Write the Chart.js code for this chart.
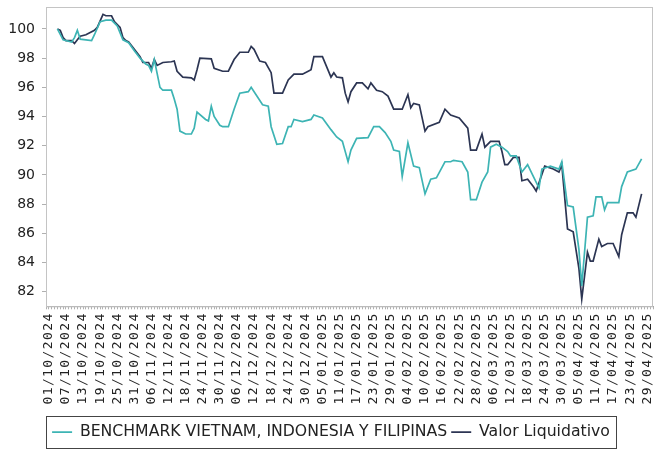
<!DOCTYPE html>
<html>
<head>
<meta charset="utf-8">
<script src="https://cdn.jsdelivr.net/npm/chart.js@4/dist/chart.umd.min.js"></script>
<style>
  html, body { margin: 0; padding: 0; background: #fff; }
  #wrap { width: 655px; height: 450px; }
</style>
</head>
<body>
<div id="wrap"><canvas id="fundChart" width="655" height="450"></canvas></div>
<script>
// ======================================================
// Datos
// ======================================================

const benchName = "BENCHMARK VIETNAM, INDONESIA Y FILIPINAS";
const navName = "Valor Liquidativo";

const benchDates = [
    "04/10/2024", "06/10/2024", "09/10/2024", "10/10/2024", "11/10/2024", "12/10/2024",
    "14/10/2024", "16/10/2024", "17/10/2024", "19/10/2024", "21/10/2024", "23/10/2024",
    "25/10/2024", "27/10/2024", "29/10/2024", "31/10/2024", "02/11/2024", "04/11/2024",
    "05/11/2024", "06/11/2024", "07/11/2024", "09/11/2024", "10/11/2024", "13/11/2024",
    "14/11/2024", "15/11/2024", "16/11/2024", "18/11/2024", "20/11/2024", "21/11/2024",
    "22/11/2024", "25/11/2024", "26/11/2024", "27/11/2024", "28/11/2024", "30/11/2024",
    "01/12/2024", "03/12/2024", "05/12/2024", "07/12/2024", "10/12/2024", "11/12/2024",
    "13/12/2024", "15/12/2024", "17/12/2024", "18/12/2024", "20/12/2024", "22/12/2024",
    "24/12/2024", "25/12/2024", "26/12/2024", "29/12/2024", "01/01/2025", "02/01/2025",
    "05/01/2025", "08/01/2025", "10/01/2025", "12/01/2025", "14/01/2025", "15/01/2025",
    "17/01/2025", "21/01/2025", "23/01/2025", "25/01/2025", "27/01/2025", "29/01/2025",
    "30/01/2025", "01/02/2025", "02/02/2025", "04/02/2025", "06/02/2025", "08/02/2025",
    "10/02/2025", "12/02/2025", "14/02/2025", "17/02/2025", "19/02/2025", "20/02/2025",
    "23/02/2025", "25/02/2025", "26/02/2025", "28/02/2025", "02/03/2025", "04/03/2025",
    "05/03/2025", "07/03/2025", "09/03/2025", "11/03/2025", "12/03/2025", "14/03/2025",
    "16/03/2025", "18/03/2025", "20/03/2025", "22/03/2025", "23/03/2025", "26/03/2025",
    "29/03/2025", "30/03/2025", "01/04/2025", "03/04/2025", "05/04/2025", "06/04/2025",
    "08/04/2025", "10/04/2025", "11/04/2025", "13/04/2025", "14/04/2025", "15/04/2025",
    "19/04/2025", "20/04/2025", "22/04/2025", "25/04/2025", "27/04/2025"
];

const benchValues = [
    100.0, 99.25, 99.1, 99.4, 99.9, 99.3,
    99.25, 99.2, 99.6, 100.5, 100.6, 100.6,
    100.2, 99.25, 99.05, 98.5, 98.0, 97.6,
    97.5, 97.1, 97.9, 96.0, 95.8, 95.8,
    95.2, 94.5, 93.0, 92.8, 92.8, 93.2,
    94.3, 93.8, 93.7, 94.7, 94.0, 93.4,
    93.3, 93.3, 94.5, 95.6, 95.7, 96.0,
    95.4, 94.8, 94.7, 93.3, 92.1, 92.15,
    93.3, 93.3, 93.8, 93.65, 93.8, 94.1,
    93.9, 93.1, 92.6, 92.3, 90.9, 91.7,
    92.5, 92.55, 93.3, 93.3, 92.9, 92.3,
    91.7, 91.6, 89.9, 92.2, 90.6, 90.5,
    88.7, 89.7, 89.8, 90.9, 90.9, 91.0,
    90.9, 90.2, 88.3, 88.3, 89.5, 90.2,
    91.9, 92.1, 91.9, 91.6, 91.3, 91.3,
    90.2, 90.7, 89.9, 89.1, 90.4, 90.6,
    90.4, 90.9, 87.9, 87.8, 84.9, 82.4,
    87.1, 87.2, 88.5, 88.5, 87.6, 88.1,
    88.1, 89.2, 90.2, 90.4, 91.1
];

const navDates = [
    "04/10/2024", "05/10/2024", "06/10/2024", "07/10/2024", "09/10/2024", "10/10/2024",
    "11/10/2024", "12/10/2024", "14/10/2024", "15/10/2024", "17/10/2024", "18/10/2024",
    "20/10/2024", "21/10/2024", "23/10/2024", "24/10/2024", "26/10/2024", "27/10/2024",
    "28/10/2024", "29/10/2024", "31/10/2024", "02/11/2024", "03/11/2024", "05/11/2024",
    "06/11/2024", "07/11/2024", "08/11/2024", "10/11/2024", "13/11/2024", "14/11/2024",
    "15/11/2024", "17/11/2024", "20/11/2024", "21/11/2024", "22/11/2024", "23/11/2024",
    "27/11/2024", "28/11/2024", "01/12/2024", "03/12/2024", "05/12/2024", "07/12/2024",
    "10/12/2024", "11/12/2024", "12/12/2024", "14/12/2024", "16/12/2024", "18/12/2024",
    "19/12/2024", "22/12/2024", "24/12/2024", "26/12/2024", "29/12/2024", "31/12/2024",
    "01/01/2025", "02/01/2025", "05/01/2025", "08/01/2025", "09/01/2025", "10/01/2025",
    "12/01/2025", "13/01/2025", "14/01/2025", "15/01/2025", "17/01/2025", "19/01/2025",
    "21/01/2025", "22/01/2025", "24/01/2025", "26/01/2025", "28/01/2025", "30/01/2025",
    "02/02/2025", "04/02/2025", "05/02/2025", "06/02/2025", "08/02/2025", "10/02/2025",
    "11/02/2025", "15/02/2025", "17/02/2025", "19/02/2025", "22/02/2025", "25/02/2025",
    "26/02/2025", "28/02/2025", "02/03/2025", "03/03/2025", "05/03/2025", "08/03/2025",
    "09/03/2025", "10/03/2025", "11/03/2025", "13/03/2025", "15/03/2025", "16/03/2025",
    "18/03/2025", "20/03/2025", "21/03/2025", "24/03/2025", "27/03/2025", "29/03/2025",
    "30/03/2025", "01/04/2025", "03/04/2025", "05/04/2025", "06/04/2025", "08/04/2025",
    "09/04/2025", "10/04/2025", "12/04/2025", "13/04/2025", "15/04/2025", "17/04/2025",
    "19/04/2025", "20/04/2025", "22/04/2025", "24/04/2025", "25/04/2025", "27/04/2025"
];

const navValues = [
    100.0, 99.9, 99.4, 99.2, 99.2, 99.0,
    99.25, 99.5, 99.6, 99.7, 99.9, 100.1,
    101.0, 100.9, 100.9, 100.5, 100.1, 99.4,
    99.2, 99.1, 98.6, 98.1, 97.7, 97.7,
    97.3, 97.9, 97.5, 97.7, 97.75, 97.8,
    97.1, 96.7, 96.65, 96.5, 97.2, 98.0,
    97.95, 97.3, 97.1, 97.1, 97.9, 98.4,
    98.4, 98.8, 98.6, 97.8, 97.7, 97.0,
    95.6, 95.6, 96.5, 96.9, 96.9, 97.1,
    97.2, 98.1, 98.1, 96.7, 97.0, 96.7,
    96.65, 95.6, 95.0, 95.7, 96.3, 96.3,
    95.9, 96.3, 95.8, 95.7, 95.4, 94.5,
    94.5, 95.5, 94.6, 94.9, 94.8, 93.0,
    93.3, 93.6, 94.5, 94.1, 93.9, 93.2,
    91.7, 91.7, 92.8, 91.9, 92.3, 92.3,
    91.6, 90.7, 90.7, 91.2, 91.2, 89.6,
    89.7, 89.2, 88.9, 90.6, 90.4, 90.2,
    90.7, 86.3, 86.1, 83.6, 81.5, 84.7,
    84.1, 84.1, 85.6, 85.1, 85.3, 85.3,
    84.4, 85.9, 87.4, 87.4, 87.1, 88.7
];

const yTicks = [82, 84, 86, 88, 90, 92, 94, 96, 98, 100];

// Eje de días: del 30/09/2024 al 01/05/2025, etiqueta cada 6 días desde el 01/10/2024
const firstDay = new Date(2024, 8, 30);
const lastDay = new Date(2025, 4, 1);
const labelEvery = 6;

// ======================================================
// Construcción
// ======================================================

function fmt(d) {
    const dd = String(d.getDate()).padStart(2, "0");
    const mm = String(d.getMonth() + 1).padStart(2, "0");
    return dd + "/" + mm + "/" + d.getFullYear();
}

let dayLabels = [];
for (let d = new Date(firstDay); d <= lastDay; d.setDate(d.getDate() + 1)) {
    dayLabels.push(fmt(d));
}

function pairs(dates, values) {
    return dates.map((d, i) => ({ x: d, y: values[i] }));
}

// marco gris + caja de la leyenda
const frame = {
    id: "frame",
    afterDraw(chart) {
        const ctx = chart.ctx;
        const a = chart.chartArea;
        ctx.save();
        ctx.strokeStyle = "#c4c4c4";
        ctx.lineWidth = 1;
        ctx.strokeRect(a.left + 0.5, a.top + 0.5, a.right - a.left - 1, a.bottom - a.top);

        const boxes = chart.legend.legendHitBoxes;
        if (boxes && boxes.length) {
            let x0 = Math.min(...boxes.map(b => b.left)) - 6;
            let x1 = Math.max(...boxes.map(b => b.left + b.width)) + 6;
            let y0 = Math.min(...boxes.map(b => b.top)) - 8;
            let y1 = Math.max(...boxes.map(b => b.top + b.height)) + 8;
            ctx.strokeStyle = "#444";
            ctx.strokeRect(Math.round(x0) + 0.5, Math.round(y0) + 0.5, Math.round(x1 - x0), Math.round(y1 - y0));
        }
        ctx.restore();
    }
};

// espaciado de letras en las fechas
const spacedTicks = {
    id: "spacedTicks",
    afterUpdate(chart) {
        const sc = chart.scales.x;
        if (sc._spaced) return;
        const orig = sc.drawLabels;
        sc.drawLabels = function (area) {
            this.ctx.save();
            this.ctx.letterSpacing = "1.4px";
            orig.call(this, area);
            this.ctx.restore();
        };
        sc._spaced = true;
    }
};

new Chart(document.getElementById("fundChart"), {

    type: "line",

    data: {
        labels: dayLabels,
        datasets: [
            {
                label: benchName,
                data: pairs(benchDates, benchValues),
                borderColor: "#3db4b4",
                backgroundColor: "#3db4b4",
                borderWidth: 1.7,
                pointRadius: 0,
                tension: 0,
                fill: false
            },
            {
                label: navName,
                data: pairs(navDates, navValues),
                borderColor: "#2c3553",
                backgroundColor: "#2c3553",
                borderWidth: 1.7,
                pointRadius: 0,
                tension: 0,
                fill: false
            }
        ]
    },

    options: {
        responsive: false,
        animation: false,
        layout: {
            padding: { left: 9, right: 2, top: 7, bottom: 0 }
        },
        plugins: {
            legend: {
                position: "bottom",
                labels: {
                    usePointStyle: true,
                    pointStyle: "line",
                    pointStyleWidth: 20,
                    color: "#222",
                    padding: 4,
                    font: { family: "DejaVu Sans", size: 15.7 }
                }
            },
            tooltip: { enabled: false }
        },
        scales: {
            x: {
                type: "category",
                offset: false,
                grid: {
                    drawOnChartArea: false,
                    drawTicks: true,
                    tickLength: 3,
                    color: "#b0b0b0"
                },
                border: { color: "#a8a8a8" },
                ticks: {
                    autoSkip: false,
                    maxRotation: 90,
                    minRotation: 90,
                    padding: 3,
                    color: "#222",
                    font: { family: "DejaVu Sans Mono", size: 13 },
                    callback: function (value, index) {
                        if (index >= 1 && (index - 1) % labelEvery === 0 && index < dayLabels.length - 1)
                            return this.getLabelForValue(value);
                        return "";
                    }
                },
                afterFit: s => {
                    s.height = 114;
                    s.paddingLeft = 0;
                    s.paddingRight = 0;
                }
            },
            y: {
                min: 81,
                max: 101.5,
                afterBuildTicks: s => { s.ticks = yTicks.map(v => ({ value: v })); },
                grid: {
                    drawOnChartArea: false,
                    tickLength: 4,
                    color: "#b0b0b0"
                },
                border: { color: "#a8a8a8" },
                ticks: {
                    padding: 7,
                    color: "#222",
                    font: { family: "DejaVu Sans", size: 14 }
                },
                afterFit: s => {
                    s.width = 37;
                    s.paddingTop = 0;
                    s.paddingBottom = 0;
                }
            }
        }
    },

    plugins: [frame, spacedTicks]

});
</script>
</body>
</html>
